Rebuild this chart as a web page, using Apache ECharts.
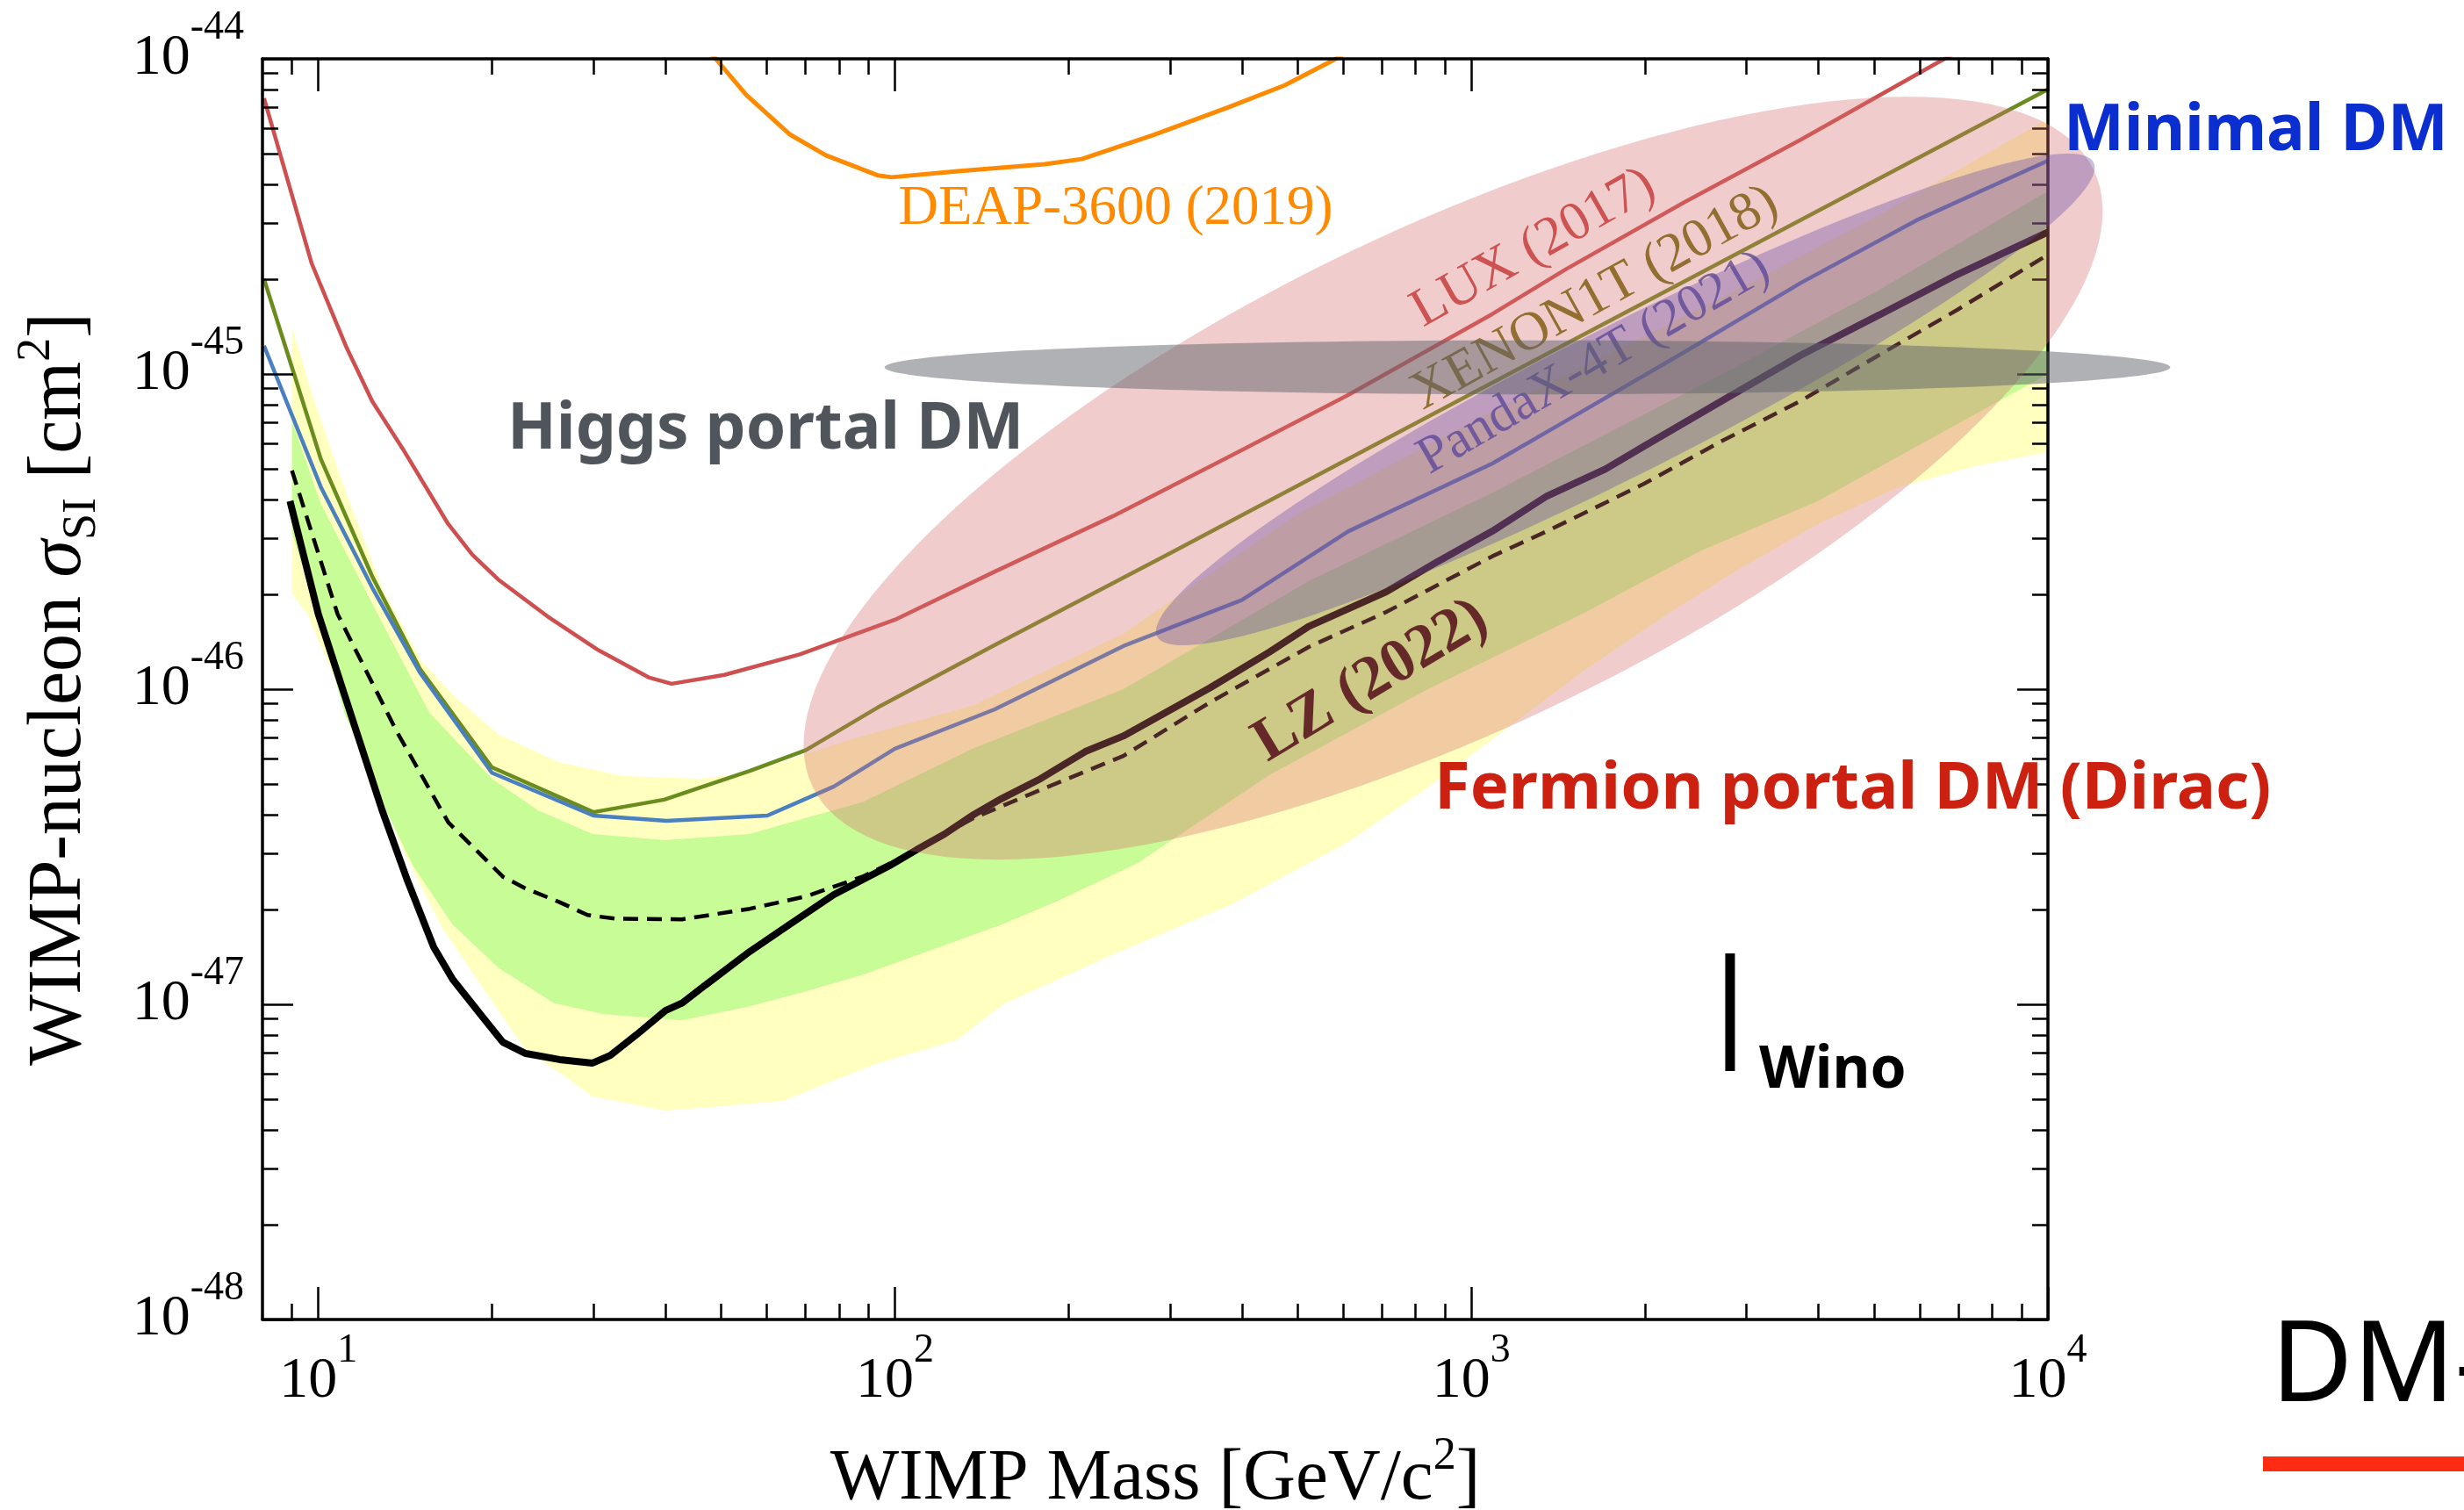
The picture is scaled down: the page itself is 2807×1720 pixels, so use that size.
<!DOCTYPE html>
<html>
<head>
<meta charset="utf-8">
<script src="https://cdn.jsdelivr.net/npm/echarts@6/dist/echarts.min.js"></script>
<style>
  html, body { margin: 0; padding: 0; background: #fff; }
  #chart { width: 2807px; height: 1720px; }
</style>
</head>
<body>
<div id="chart"></div>
<script>
// WIMP mass in GeV/c^2, cross section in cm^2
const X_MAJOR = [10, 100, 1000, 10000];
const X_MINOR = [9, 20, 30, 40, 50, 60, 70, 80, 90, 200, 300, 400, 500, 600, 700, 800, 900,
  2000, 3000, 4000, 5000, 6000, 7000, 8000, 9000];
const Y_MAJOR = [1e-48, 1e-47, 1e-46, 1e-45, 1e-44];
const Y_MINOR = [2e-48, 3e-48, 4e-48, 5e-48, 6e-48, 7e-48, 8e-48, 9e-48,
  2e-47, 3e-47, 4e-47, 5e-47, 6e-47, 7e-47, 8e-47, 9e-47,
  2e-46, 3e-46, 4e-46, 5e-46, 6e-46, 7e-46, 8e-46, 9e-46,
  2e-45, 3e-45, 4e-45, 5e-45, 6e-45, 7e-45, 8e-45, 9e-45];

const LUX_2017 = [[8.05, 7.5e-45], [9.74, 2.24e-45], [11.2, 1.21e-45], [12.4, 8.2e-46], [14.0, 5.8e-46],
  [16.8, 3.34e-46], [18.5, 2.67e-46], [20.5, 2.23e-46], [25, 1.70e-46], [30.6, 1.33e-46], [37.4, 1.09e-46],
  [41, 1.04e-46], [50.6, 1.11e-46], [68.4, 1.29e-46], [100, 1.66e-46], [149, 2.36e-46], [239, 3.54e-46],
  [383, 5.51e-46], [611, 8.57e-46], [1087, 1.55e-45], [1459, 2.15e-45], [2335, 3.5e-45], [3735, 5.55e-45],
  [6450, 9.75e-45], [10000, 1.5e-44]];
const XENON1T_2018 = [[8.05, 2.0e-45], [9.06, 1.01e-45], [10.1, 5.37e-46], [12.4, 2.28e-46], [15.0, 1.16e-46],
  [20.0, 5.65e-47], [30.0, 4.07e-47], [39.8, 4.46e-47], [56, 5.5e-47], [70, 6.4e-47], [93.4, 8.75e-47],
  [149, 1.38e-46], [300, 2.7e-46], [1000, 8.65e-46], [3000, 2.5e-45], [10000, 8.0e-45]];
const PANDAX_2021 = [[8.05, 1.23e-45], [10.1, 4.38e-46], [12.4, 2.1e-46], [15.0, 1.13e-46], [20.0, 5.43e-47],
  [30.0, 3.97e-47], [40.2, 3.82e-47], [60.1, 3.97e-47], [78.4, 4.91e-47], [100, 6.47e-47], [149, 8.63e-47],
  [249, 1.37e-46], [400, 1.92e-46], [612, 3.17e-46], [1087, 5.2e-46], [1459, 7.1e-46], [2335, 1.17e-45],
  [3735, 1.95e-45], [5975, 3.1e-45], [10000, 4.75e-45]];
const DEAP_2019 = [[44.8, 1.19e-44], [48.9, 1e-44], [55.2, 7.69e-45], [65.8, 5.75e-45], [75.9, 4.94e-45],
  [93.3, 4.27e-45], [98.8, 4.21e-45], [128.6, 4.4e-45], [182, 4.63e-45], [211, 4.81e-45], [282, 5.75e-45],
  [380, 7.03e-45], [475, 8.25e-45], [578, 9.93e-45], [660, 1.15e-44]];
const LZ_2022 = [[8.93, 3.95e-46], [10.0, 1.73e-46], [11.07, 9.75e-47], [12.9, 4.13e-47], [14.3, 2.45e-47],
  [15.85, 1.52e-47], [17.1, 1.20e-47], [19.1, 9.3e-48], [20.9, 7.58e-48], [22.9, 6.98e-48], [26.2, 6.68e-48],
  [29.9, 6.51e-48], [32.1, 6.89e-48], [35.7, 8.03e-48], [40.0, 9.55e-48], [42.8, 1.01e-47], [46.9, 1.15e-47],
  [56.0, 1.47e-47], [65.6, 1.79e-47], [78.4, 2.23e-47], [97.8, 2.75e-47], [109, 3.09e-47], [122, 3.47e-47],
  [137, 4.0e-47], [153, 4.49e-47], [179, 5.2e-47], [214, 6.34e-47], [249, 7.1e-47], [352, 1.01e-46],
  [446, 1.31e-46], [522, 1.58e-46], [713, 2.04e-46], [874, 2.54e-46], [1087, 3.17e-46], [1352, 4.1e-46],
  [1710, 5.0e-46], [1996, 5.91e-46], [2725, 8.24e-46], [3735, 1.15e-45], [5100, 1.54e-45], [6970, 2.07e-45],
  [10000, 2.82e-45]];
const LZ_MEDIAN = [[9.0, 4.94e-46], [10.8, 1.73e-46], [11.97, 1.19e-46], [13.7, 7.3e-47], [16.8, 3.78e-47],
  [20.9, 2.54e-47], [22.9, 2.33e-47], [26.2, 2.11e-47], [29.3, 1.92e-47], [32.7, 1.87e-47], [42.7, 1.86e-47],
  [56, 2.01e-47], [70.1, 2.2e-47], [87.8, 2.54e-47], [104.5, 2.96e-47], [137, 3.9e-47], [171, 4.63e-47],
  [249, 6.14e-47], [352, 9.08e-47], [522, 1.36e-46], [713, 1.76e-46], [1087, 2.64e-46], [1352, 3.17e-46],
  [1996, 4.49e-46], [2725, 6.14e-46], [3735, 8.24e-46], [5100, 1.15e-45], [6970, 1.6e-45], [10000, 2.39e-45]];

// expected sensitivity bands (upper / lower edges)
const BAND2_UP = [[9.0, 1.41e-45], [9.73, 8.75e-46], [11.0, 4.54e-46], [12.9, 2.09e-46], [15.1, 1.23e-46],
  [17.1, 9.6e-47], [20.5, 7.2e-47], [26.1, 5.87e-47], [33.8, 5.3e-47], [45.8, 5.2e-47], [56, 5.43e-47],
  [68.4, 6.14e-47], [83.8, 6.93e-47], [137, 8.9e-47], [249, 1.5e-46], [500, 3.6e-46], [1087, 7.6e-46],
  [2725, 1.75e-45], [5100, 3.2e-45], [10000, 6.45e-45]];
const BAND1_UP = [[9.0, 7.1e-46], [10.1, 3.87e-46], [13.1, 1.54e-46], [15.6, 8.4e-47], [20.0, 5.2e-47],
  [24.0, 4.13e-47], [29.9, 3.47e-47], [40.0, 3.32e-47], [56, 3.47e-47], [70, 3.9e-47], [87.8, 4.38e-47],
  [137, 6.5e-47], [249, 1.0e-46], [522, 2.2e-46], [1087, 4.2e-46], [2725, 1.0e-45], [5100, 1.85e-45],
  [10000, 3.8e-45]];
const BAND1_LO = [[9.0, 3.15e-46], [10.1, 1.58e-46], [11.1, 8.4e-47], [13.1, 4.13e-47], [14.6, 2.75e-47],
  [17.1, 1.79e-47], [20.5, 1.31e-47], [25.6, 1.01e-47], [31.3, 9.3e-48], [42.7, 8.9e-48], [56, 9.86e-48],
  [70, 1.1e-47], [87.8, 1.24e-47], [109, 1.43e-47], [153, 1.79e-47], [192, 2.13e-47], [263, 2.8e-47],
  [446, 5.33e-47], [835, 9.93e-47], [1563, 1.74e-46], [2493, 2.74e-46], [3990, 3.95e-46], [10000, 1.0e-45]];
const BAND2_LO = [[9.0, 2.01e-46], [9.57, 1.73e-46], [11.7, 7.3e-47], [14.0, 3.09e-47], [16.4, 1.75e-47],
  [19.2, 1.14e-47], [22.9, 7.16e-48], [26.2, 6.07e-48], [29.9, 5.1e-48], [40.0, 4.6e-48], [50, 4.75e-48],
  [64, 4.94e-48], [74.9, 5.55e-48], [93.3, 6.5e-48], [128, 7.7e-48], [154, 1.0e-47], [239, 1.44e-47],
  [383, 2.07e-47], [611, 3.27e-47], [835, 4.84e-47], [1140, 7.4e-47], [1563, 1.14e-46], [2136, 1.68e-46],
  [2920, 2.41e-46], [3990, 3.34e-46], [5470, 4.35e-46], [7480, 5.1e-46], [10000, 5.65e-46]];

const WINO = [[2810, 1.45e-47], [2810, 6.14e-48]];

// model regions: ends of the long axis [m1, s1, m2, s2]
const REGIONS = [
  [72, 4.9e-47, 12000, 4.45e-45],      // fermion portal
  [285, 1.47e-46, 12000, 4.69e-45],    // minimal DM
  [96, 1.05e-45, 16300, 1.05e-45]      // higgs portal
];
const REGION_RATIO = [0.35, 0.14, 0.042];
const REGION_FILL = ['rgba(215,110,110,0.35)', 'rgba(95,70,165,0.35)', 'rgba(95,100,108,0.5)'];

// axis works in units of 1e-48 cm^2 (avoids rounding of tiny numbers)
const toAxis = s => +(s * 1e48).toPrecision(12);
const conv = arr => arr.map(p => [p[0], toAxis(p[1])]);

const SERIF = 'Liberation Serif';
const HAND = 'Noto Sans';

function curve(name, pts, color, width, z, type) {
  return {
    type: 'line', name: name, data: conv(pts), showSymbol: false, symbol: 'none',
    lineStyle: { color: color, width: width, type: type || 'solid' },
    z: z, silent: true, clip: true
  };
}

function band(name, up, lo, color, z) {
  const pts = conv(up.concat(lo.slice().reverse()));
  return {
    type: 'custom', name: name, z: z, silent: true, data: pts,
    renderItem: function (params, api) {
      if (params.dataIndex !== 0) return null;
      return { type: 'polygon', shape: { points: pts.map(p => api.coord(p)) }, style: { fill: color } };
    }
  };
}

function tickAxis(dim, position, ticks, len, extra) {
  const ext = dim === 'x' ? [8, 10000] : [1, 10000];
  return Object.assign({
    type: 'log', logBase: 10, position: position, min: ext[0], max: ext[1], z: 4,
    axisLine: { show: false, onZero: false },
    axisTick: { show: true, inside: true, length: len, customValues: ticks, lineStyle: { color: '#000', width: 2.5 } },
    axisLabel: { show: false },
    splitLine: { show: false },
    nameMoveOverlap: false
  }, extra || {});
}

const labelRich = {
  b: { fontFamily: SERIF, fontSize: 66, lineHeight: 116, color: '#000' },
  s: { fontFamily: SERIF, fontSize: 46, lineHeight: 46, verticalAlign: 'top', color: '#000' }
};
const frameLine = { show: true, onZero: false, lineStyle: { color: '#000', width: 3.5 } };

const chart = echarts.init(document.getElementById('chart'));
chart.setOption({
  backgroundColor: '#fff',
  animation: false,
  textStyle: { fontFamily: SERIF },
  grid: { left: 299, top: 67, right: 474, bottom: 217, containLabel: false, outerBoundsMode: 'none' },
  xAxis: [
    tickAxis('x', 'bottom', X_MAJOR, 37, {
      axisLine: frameLine,
      axisLabel: {
        show: true, customValues: X_MAJOR, margin: 13,
        formatter: v => '{b|10}{s|' + Math.round(Math.log10(v)) + '}', rich: labelRich
      },
      name: 'WIMP Mass [GeV/c{sup|2}]', nameLocation: 'middle', nameGap: 130,
      nameTextStyle: {
        fontFamily: SERIF, fontSize: 83, color: '#000', lineHeight: 104,
        rich: { sup: { fontFamily: SERIF, fontSize: 52, verticalAlign: 'top', lineHeight: 52, color: '#000' } }
      }
    }),
    tickAxis('x', 'bottom', X_MINOR, 18),
    tickAxis('x', 'top', X_MAJOR, 37, { axisLine: frameLine }),
    tickAxis('x', 'top', X_MINOR, 18)
  ],
  yAxis: [
    tickAxis('y', 'left', Y_MAJOR.map(toAxis), 35, {
      axisLine: frameLine,
      axisLabel: {
        show: true, customValues: Y_MAJOR.map(toAxis), margin: 21,
        formatter: v => '{b|10}{s|' + (Math.round(Math.log10(v)) - 48) + '}', rich: labelRich
      },
      name: 'WIMP-nucleon {i|σ}{sub|SI} [cm{sup|2}]', nameLocation: 'middle', nameGap: 178, nameRotate: 90,
      nameTextStyle: {
        fontFamily: SERIF, fontSize: 86, color: '#000', lineHeight: 106,
        rich: {
          i: { fontFamily: SERIF, fontSize: 86, fontStyle: 'italic', color: '#000' },
          sub: { fontFamily: SERIF, fontSize: 54, verticalAlign: 'bottom', lineHeight: 54, color: '#000' },
          sup: { fontFamily: SERIF, fontSize: 54, verticalAlign: 'top', lineHeight: 54, color: '#000' }
        }
      }
    }),
    tickAxis('y', 'left', Y_MINOR.map(toAxis), 18),
    tickAxis('y', 'right', Y_MAJOR.map(toAxis), 35, { axisLine: frameLine }),
    tickAxis('y', 'right', Y_MINOR.map(toAxis), 18)
  ],
  series: [
    band('2 sigma', BAND2_UP, BAND2_LO, '#ffffc0', 1),
    band('1 sigma', BAND1_UP, BAND1_LO, '#c8fc96', 1.5),
    curve('DEAP-3600', DEAP_2019, '#ff8a00', 5, 3),
    curve('LUX', LUX_2017, '#cd4f4f', 4.5, 3),
    curve('XENON1T', XENON1T_2018, '#6a8c1e', 4.5, 3),
    curve('PandaX-4T', PANDAX_2021, '#4a7fc0', 4.5, 3),
    curve('LZ median', LZ_MEDIAN, '#000', 4.5, 3, [17, 10]),
    curve('LZ', LZ_2022, '#000', 8, 3),
    curve('Wino', WINO, '#000', 11, 3),
    {
      type: 'custom', name: 'regions', z: 5, silent: true, clip: false,
      data: REGIONS.map(r => [r[0], toAxis(r[1]), r[2], toAxis(r[3])]),
      encode: { x: [0, 2], y: [1, 3] },
      renderItem: function (params, api) {
        const p1 = api.coord([api.value(0), api.value(1)]);
        const p2 = api.coord([api.value(2), api.value(3)]);
        const cx = (p1[0] + p2[0]) / 2, cy = (p1[1] + p2[1]) / 2;
        const dx = (p2[0] - p1[0]) / 2, dy = (p2[1] - p1[1]) / 2;
        const a = Math.sqrt(dx * dx + dy * dy);
        const ux = dx / a, uy = dy / a;
        const b = a * REGION_RATIO[params.dataIndex];
        const pts = [];
        for (let i = 0; i < 160; i++) {
          const t = i / 160 * Math.PI * 2;
          pts.push([cx + a * Math.cos(t) * ux - b * Math.sin(t) * uy,
                    cy + a * Math.cos(t) * uy + b * Math.sin(t) * ux]);
        }
        return { type: 'polygon', shape: { points: pts }, style: { fill: REGION_FILL[params.dataIndex] } };
      }
    }
  ],
  graphic: [
    { type: 'text', x: 1271, y: 238, z: 4, style: { text: 'DEAP-3600 (2019)', fontFamily: SERIF, fontSize: 63, fill: '#ff8a00', align: 'center', verticalAlign: 'middle' } },
    { type: 'text', x: 1747, y: 283, z: 4, rotation: 29.5 * Math.PI / 180, style: { text: 'LUX (2017)', fontFamily: SERIF, fontSize: 62, fill: '#c84646', align: 'center', verticalAlign: 'middle' } },
    { type: 'text', x: 1817, y: 340, z: 4, rotation: 29 * Math.PI / 180, style: { text: 'XENON1T (2018)', fontFamily: SERIF, fontSize: 62, fill: '#6e7010', align: 'center', verticalAlign: 'middle' } },
    { type: 'text', x: 1816, y: 414, z: 4, rotation: 30 * Math.PI / 180, style: { text: 'PandaX-4T (2021)', fontFamily: SERIF, fontSize: 60, fill: '#4a62b0', align: 'center', verticalAlign: 'middle' } },
    { type: 'text', x: 1562, y: 776, z: 4, rotation: 31 * Math.PI / 180, style: { text: 'LZ (2022)', fontFamily: SERIF, fontSize: 70, fontWeight: 'bold', fill: '#2a0606', align: 'center', verticalAlign: 'middle' } },
    { type: 'text', x: 578, y: 490, z: 10, style: { text: 'Higgs portal DM', fontFamily: HAND, fontSize: 73, fontWeight: 'bold', fill: '#50555b', align: 'left', verticalAlign: 'middle' } },
    { type: 'text', x: 2351, y: 150, z: 10, style: { text: 'Minimal DM', fontFamily: HAND, fontSize: 73, fontWeight: 'bold', fill: '#0a2ed0', align: 'left', verticalAlign: 'middle' } },
    { type: 'text', x: 1634, y: 900, z: 10, style: { text: 'Fermion portal DM (Dirac)', fontFamily: HAND, fontSize: 74, fontWeight: 'bold', fill: '#cc2010', align: 'left', verticalAlign: 'middle' } },
    { type: 'text', x: 2004, y: 1220, z: 10, style: { text: 'Wino', fontFamily: HAND, fontSize: 66, fontWeight: 'bold', fill: '#000', align: 'left', verticalAlign: 'middle' } },
    { type: 'text', x: 2587, y: 1560, z: 10, style: { text: 'DM-', fontFamily: HAND, fontSize: 128, fill: '#000', align: 'left', verticalAlign: 'middle' } },
    { type: 'rect', z: 10, shape: { x: 2578, y: 1659, width: 229, height: 17 }, style: { fill: '#ff2b12' } }
  ]
});
</script>
</body>
</html>
